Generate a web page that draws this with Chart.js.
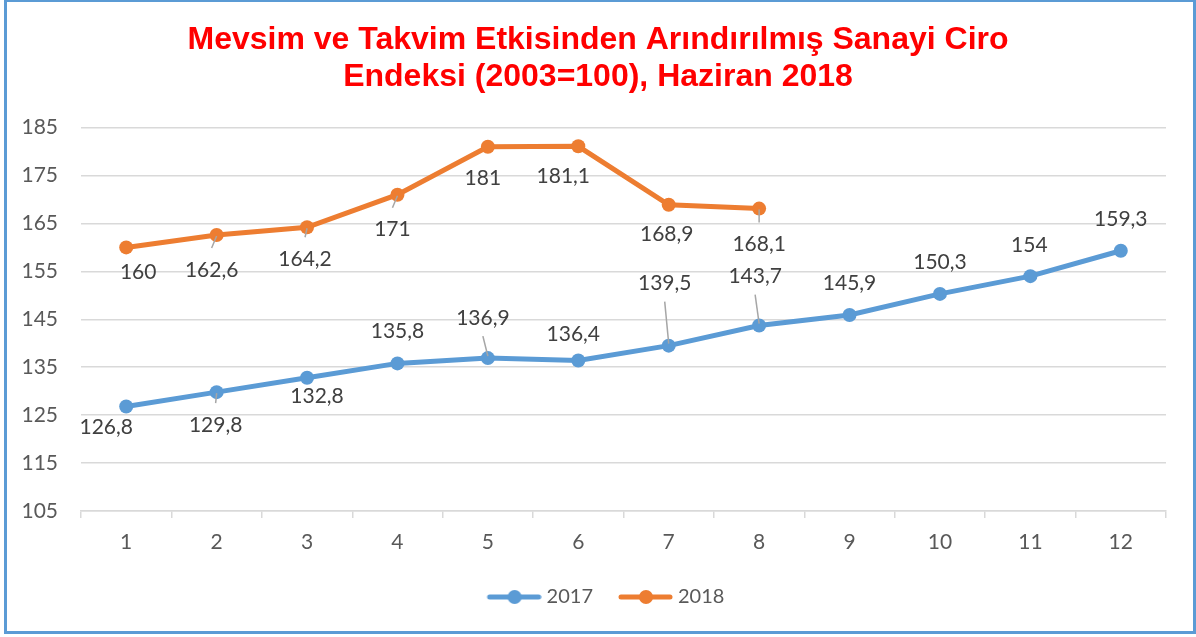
<!DOCTYPE html>
<html>
<head>
<meta charset="utf-8">
<script src="https://cdn.jsdelivr.net/npm/chart.js@4"></script>
<style>
	html, body { margin: 0; padding: 0; background: #fff; }
	#wrap { width: 1196px; height: 637px; }
</style>
</head>
<body>
<div id="wrap"><canvas id="chart" width="1196" height="637"></canvas></div>
<script>
const months = ['1', '2', '3', '4', '5', '6', '7', '8', '9', '10', '11', '12'];
const values2017 = [126.8, 129.8, 132.8, 135.8, 136.9, 136.4, 139.5, 143.7, 145.9, 150.3, 154, 159.3];
const values2018 = [160, 162.6, 164.2, 171, 181, 181.1, 168.9, 168.1];
const yMin = 105;
const yMax = 185;
const yStep = 10;
const titleLines = ['Mevsim ve Takvim Etkisinden Arındırılmış Sanayi Ciro', 'Endeksi (2003=100), Haziran 2018'];

// label offsets from the point, in px [dx, dy]
const labelShift2017 = [[-20, 21], [-1, 33], [10, 18], [0, -32], [-5, -40], [-5, -26], [-4, -62], [-4, -49], [0, -32], [0, -32], [-1, -31], [0, -32]];
const labelShift2018 = [[12, 25], [-5, 35], [-2, 32], [-5, 35], [-5, 31], [-15, 30], [-2, 29], [0, 36]];

const BLUE = '#5B9BD5';
const ORANGE = '#ED7D31';
const FONT = 'Lato, Calibri, "Open Sans", sans-serif';

function legendIcon(color) {
	const c = document.createElement('canvas');
	c.width = 75;
	c.height = 16;
	const g = c.getContext('2d');
	g.strokeStyle = color;
	g.lineWidth = 5;
	g.lineCap = 'round';
	g.beginPath();
	g.moveTo(23, 8);
	g.lineTo(72, 8);
	g.stroke();
	g.fillStyle = color;
	g.beginPath();
	g.arc(48, 8, 7, 0, Math.PI * 2);
	g.fill();
	return c;
}

const frame = {
	id: 'frame',
	beforeDraw(chart) {
		const ctx = chart.ctx;
		ctx.save();
		ctx.fillStyle = '#fff';
		ctx.fillRect(0, 0, chart.width, chart.height);
		ctx.strokeStyle = BLUE;
		ctx.lineWidth = 3;
		ctx.strokeRect(5.5, 0.5, 1189, 632);
		ctx.restore();
	},
};

const pointLabels = {
	id: 'pointLabels',
	afterDatasetsDraw(chart) {
		const ctx = chart.ctx;
		const shifts = [labelShift2017, labelShift2018];
		ctx.save();
		ctx.font = '21px ' + FONT;
		ctx.textAlign = 'center';
		ctx.textBaseline = 'middle';
		chart.data.datasets.forEach((ds, i) => {
			const meta = chart.getDatasetMeta(i);
			meta.data.forEach((pt, j) => {
				const [dx, dy] = shifts[i][j];
				const lx = pt.x + dx;
				const ly = pt.y + dy;
				// leader line when the label sits far from its point
				const below = dy > 0;
				if ((below && dy >= 32) || (!below && -dy >= 36)) {
					ctx.strokeStyle = '#A6A6A6';
					ctx.lineWidth = 1.5;
					ctx.beginPath();
					if (below) {
						ctx.moveTo(lx, ly - 22);
						ctx.lineTo(pt.x, pt.y + 1);
					} else {
						ctx.moveTo(lx, ly + 18);
						ctx.lineTo(pt.x, pt.y - 2);
					}
					ctx.stroke();
				}
				ctx.fillStyle = '#404040';
				ctx.fillText(String(ds.data[j]).replace('.', ','), lx, ly);
			});
		});
		ctx.restore();
	},
};

new Chart(document.getElementById('chart'), {
	type: 'line',
	data: {
		labels: months,
		datasets: [
			{
				label: '2017',
				data: values2017,
				borderColor: BLUE,
				backgroundColor: BLUE,
				borderWidth: 5,
				pointRadius: 7,
				pointBorderWidth: 0,
				pointHoverRadius: 7,
				tension: 0,
			},
			{
				label: '2018',
				data: values2018,
				borderColor: ORANGE,
				backgroundColor: ORANGE,
				borderWidth: 5,
				pointRadius: 7,
				pointBorderWidth: 0,
				pointHoverRadius: 7,
				tension: 0,
			},
		],
	},
	options: {
		responsive: false,
		animation: false,
		devicePixelRatio: 1,
		layout: { padding: { left: 0, right: 0, top: 0, bottom: 20 } },
		plugins: {
			title: {
				display: true,
				text: titleLines,
				color: '#FF0000',
				font: { family: '"Liberation Sans", Arial, sans-serif', size: 32, weight: 'bold', lineHeight: 1.15 },
				padding: { top: 22, bottom: 32 },
			},
			legend: {
				position: 'bottom',
				labels: {
					usePointStyle: true,
					pointStyleWidth: 65,
					padding: 10,
					color: '#595959',
					font: { family: FONT, size: 20 },
					generateLabels(chart) {
						return chart.data.datasets.map((ds, i) => ({
							text: ds.label,
							fillStyle: ds.borderColor,
							strokeStyle: ds.borderColor,
							lineWidth: 0,
							pointStyle: legendIcon(ds.borderColor),
							fontColor: '#595959',
							hidden: false,
							datasetIndex: i,
						}));
					},
				},
			},
			tooltip: { enabled: false },
		},
		scales: {
			x: {
				offset: true,
				grid: { offset: true, drawOnChartArea: false, drawTicks: true, tickLength: 7, color: '#D9D9D9', lineWidth: 1.5 },
				border: { display: true, color: '#D9D9D9', width: 1.5 },
				ticks: { color: '#595959', font: { family: FONT, size: 21 }, padding: 12, maxRotation: 0 },
				afterFit(scale) { scale.height = 66; },
			},
			y: {
				min: yMin,
				max: yMax,
				grid: { color: '#D9D9D9', lineWidth: 1.5, drawTicks: false },
				border: { display: false },
				ticks: { stepSize: yStep, color: '#595959', font: { family: FONT, size: 21 }, padding: 23 },
				afterFit(scale) { scale.width = 81; },
			},
			// empty right-hand spacer so the plot ends where the original does
			yRight: {
				position: 'right',
				min: yMin,
				max: yMax,
				grid: { display: false },
				border: { display: false },
				ticks: { display: false },
				afterFit(scale) { scale.width = 30; },
			},
		},
	},
	plugins: [frame, pointLabels],
});
</script>
</body>
</html>
